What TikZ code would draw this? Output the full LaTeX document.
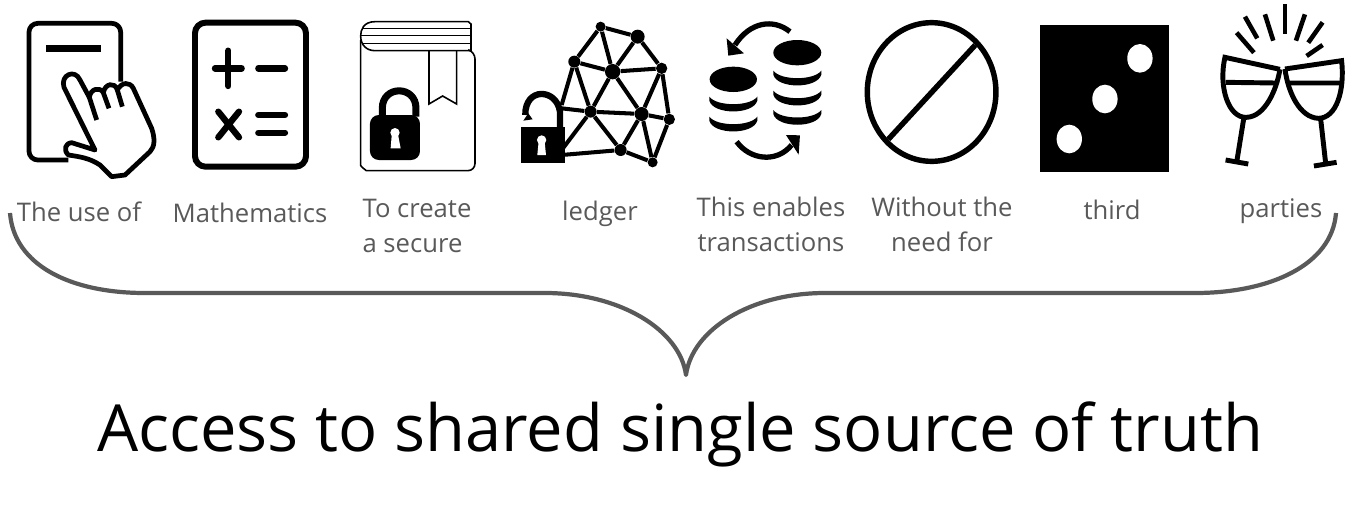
\documentclass[tikz,border=0pt]{standalone}
\usepackage{xcolor}
\usepackage{fontspec}
\setmainfont{Open Sans}
\usetikzlibrary{positioning,arrows.meta,calc}
\definecolor{ink}{HTML}{000000}
\definecolor{labelgray}{HTML}{595959}
\definecolor{bracegray}{HTML}{595959}

\begin{document}
\begin{tikzpicture}[x=0.02cm,y=-0.02cm,
  zoomed/.style={x=0.0066667cm,y=-0.0066667cm},
  label/.style={color=labelgray,font=\fontsize{14.6}{20}\selectfont,inner sep=0pt},
  iconline/.style={draw=ink,line width=2.7pt,line join=round},
  bookline/.style={draw=ink,line width=0.9pt},
  keypad/.style={draw=ink,line width=3.6pt,line cap=round},
  netdot/.style={circle,fill=ink,inner sep=0pt},
  netline/.style={draw=ink,line width=2.3pt},
  glass/.style={draw=ink,line width=2.8pt},
  ray/.style={draw=ink,line width=2.6pt}]
  \useasboundingbox (0,0) rectangle (1349,515);

  % tablet and hand
  \begin{scope}[zoomed]
    \draw[iconline,rounded corners=5pt] (205,480) -- (87,480) -- (87,70) -- (362,70) -- (362,245);
    \fill[ink] (138,135) rectangle (302,157);
    \draw[iconline] (285,450) -- (192,262) .. controls (180,225) and (225,205) .. (240,240) -- (268,292)
      .. controls (272,265) and (300,260) .. (310,278) .. controls (315,250) and (345,245) .. (352,270)
      .. controls (365,245) and (390,245) .. (400,265) -- (455,385) .. controls (465,415) and (465,440) .. (450,455)
      -- (375,525) -- (335,530) -- (300,495) .. controls (270,475) and (240,470) .. (205,465)
      .. controls (190,450) and (195,430) .. (215,428) -- cycle;
    \draw[iconline] (268,292) -- (290,360) (310,278) -- (327,325) (352,270) -- (367,320);
  \end{scope}

  % calculator
  \begin{scope}[zoomed]
    \draw[draw=ink,line width=3.4pt,rounded corners=6pt] (585,68) rectangle (918,500);
    \draw[keypad] (645,205) -- (725,205) (685,152) -- (685,258) (775,205) -- (855,205);
    \draw[keypad] (655,335) -- (717,412) (717,335) -- (655,412);
    \draw[keypad] (775,345) -- (855,345) (775,398) -- (855,398);
  \end{scope}

  % book with lock
  \begin{scope}[zoomed,shift={(1020,0)}]
    \draw[bookline,rounded corners=4pt] (62,120) -- (62,475) .. controls (62,500) and (80,512) .. (100,512) -- (405,512) -- (405,155) -- (393,152);
    \draw[bookline] (393,152) -- (393,72) -- (385,65) -- (105,65) .. controls (70,65) and (62,90) .. (62,108) .. controls (62,135) and (80,152) .. (105,152) -- cycle;
    \draw[bookline] (68,85) -- (393,85) (62,107) -- (393,107) (68,130) -- (393,130);
    \draw[bookline] (267,153) -- (267,312) -- (308,288) -- (350,312) -- (350,153);
    \fill[ink,rounded corners=5pt] (90,345) -- (90,480) -- (240,480) -- (240,345) -- cycle;
    \draw[draw=ink,line width=4pt] (127,350) -- (127,325) .. controls (127,255) and (228,255) .. (228,325) -- (228,350);
    \fill[white] (165,398) circle (14) (155,408) -- (175,408) -- (182,445) -- (152,445) -- cycle;
  \end{scope}

  % network with open lock
  \begin{scope}[zoomed,shift={(1020,0)}]
    \foreach \name/\px/\py/\size in {n1/782/80/30,n2/893/110/42,n3/703/185/36,n4/818/215/46,n5/965/205/34,n6/752/335/36,n7/905/342/42,n8/988/358/34,n9/842/450/36,n10/938/487/30}
      \node[netdot,minimum size=\size*0.0066667cm] (\name) at (\px,\py) {};
    \coordinate (lock1) at (665,315);
    \coordinate (lock2) at (665,325);
    \coordinate (lock3) at (665,450);
    \coordinate (lock4) at (665,465);
    \foreach \a/\b in {n1/n2,n1/n3,n1/n4,n2/n4,n2/n5,n3/n4,n3/n6,n4/n5,n4/n6,n4/n7,n5/n7,n5/n8,n6/n7,n6/n9,n7/n8,n7/n9,n7/n10,n8/n10,n9/n10,n3/lock1,n6/lock2,n6/lock3,n9/lock4}
      \draw[netline] (\a) -- (\b);
    \fill[ink] (542,380) rectangle (675,488);
    \draw[draw=ink,line width=3.6pt] (660,382) -- (660,335) .. controls (650,265) and (555,260) .. (556,345);
    \fill[ink] (550,362) -- (565,340) -- (578,358) -- cycle;
    \fill[white] (605,420) circle (14) (596,425) -- (614,425) -- (618,465) -- (592,465) -- cycle;
  \end{scope}

  % coins and arrows
  \begin{scope}[zoomed,shift={(2040,0)}]
    \fill[ink] (352,158) ellipse (72 and 38);
    \fill[ink] (160,238) ellipse (71 and 38);
    \foreach \x/\y in {352/212,352/272,352/330,160/290,160/350}
      \fill[ink,shift={(\x,\y)}] (-72,0) .. controls (-50,30) and (50,30) .. (72,0)
        -- (72,12) .. controls (60,55) and (-60,55) .. (-72,12) -- cycle;
    \draw[draw=ink,line width=3pt] (330,95) .. controls (280,55) and (210,65) .. (165,135);
    \fill[ink] (140,115) -- (192,160) -- (145,167) -- cycle;
    \draw[draw=ink,line width=3pt] (170,425) .. controls (210,480) and (290,490) .. (335,435);
    \fill[ink] (318,405) -- (360,406) -- (356,464) -- cycle;
  \end{scope}

  % crossed circle
  \begin{scope}[zoomed,shift={(2040,0)}]
    \draw[draw=ink,line width=3.1pt] (755,276) ellipse (193 and 208);
    \draw[draw=ink,line width=3.1pt] (886,135) -- (625,418);
  \end{scope}

  % die
  \begin{scope}[zoomed,shift={(3060,0)}]
    \fill[ink] (60,76) rectangle (448,515);
    \fill[white] (360,175) ellipse (38 and 43) (255,297) ellipse (38 and 43) (148,417) ellipse (38 and 43);
  \end{scope}

  % glasses
  \begin{scope}[zoomed,shift={(3060,0)}]
    \foreach \xa/\ya/\xb/\yb in {795/12/795/103,735/43/760/122,675/50/712/115,650/98/702/158,855/43/828/122,908/67/865/128,908/135/860/168}
      \draw[ray] (\xa,\ya) -- (\xb,\yb);
    \draw[glass] (780,208) -- (615,172) .. controls (595,260) and (625,355) .. (680,352) .. controls (735,350) and (770,270) .. (780,208);
    \draw[glass] (618,247) -- (768,249) (672,352) -- (650,488) (617,480) -- (685,492);
    \draw[glass] (795,207) -- (965,182) .. controls (975,270) and (950,355) .. (895,355) .. controls (840,352) and (805,280) .. (795,207);
    \draw[glass] (808,249) -- (962,249) (902,355) -- (918,497) (882,498) -- (950,487);
  \end{scope}

  \node[label] (useof) at (79,212) {The use of};
  \node[label] (maths) at (250,213) {Mathematics};
  \node[label,align=left] (create) at (417,226) {To create\\a secure};
  \node[label] (ledger) at (600,214) {ledger};
  \node[label,align=center] (enables) at (771,224) {This enables\\transactions};
  \node[label,align=center] (without) at (942,224) {Without the\\need for};
  \node[label] (third) at (1112,210) {third};
  \node[label] (parties) at (1281,211) {parties};

  \coordinate (braceleft) at (10,213);
  \coordinate (bracetip) at (686,375);
  \coordinate (braceright) at (1336,213);
  \draw[draw=bracegray,line width=2.4pt,line join=round] (braceleft) .. controls (14,265) and (70,293) .. (145,293) -- (545,293)
    .. controls (620,293) and (680,330) .. (bracetip) .. controls (692,330) and (750,293) .. (825,293) -- (1195,293)
    .. controls (1270,293) and (1332,265) .. (braceright);

  \node[color=ink,font=\fontsize{37}{44}\selectfont,inner sep=0pt] (truth) at (680,434) {Access to shared single source of truth};
\end{tikzpicture}
\end{document}
